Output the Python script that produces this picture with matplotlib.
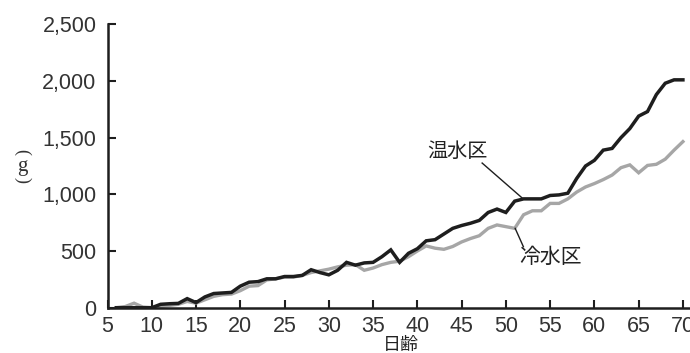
import matplotlib
matplotlib.use("Agg")
import matplotlib.pyplot as plt

days = list(range(6, 71))
warm = [0, 0, 0, 0, 0, 30, 35, 38, 80, 45,
        95, 125, 130, 135, 190, 225, 230, 255, 255, 275,
        275, 285, 335, 310, 290, 330, 400, 375, 395, 400,
        450, 510, 400, 480, 520, 590, 600, 650, 700, 725,
        745, 770, 840, 870, 840, 940, 960, 960, 960, 990,
        995, 1010, 1140, 1250, 1300, 1390, 1405, 1500, 1580, 1690,
        1730, 1880, 1980, 2010, 2010]
cold = [0, 10, 40, 5, 0, 10, 20, 30, 55, 40,
        70, 100, 115, 120, 150, 190, 195, 245, 255, 270,
        270, 285, 310, 325, 340, 360, 375, 380, 330, 350,
        380, 400, 410, 450, 500, 545, 525, 515, 540, 580,
        610, 635, 700, 730, 715, 700, 820, 855, 855, 920,
        920, 960, 1020, 1065, 1095, 1130, 1170, 1235, 1260, 1190,
        1255, 1265, 1310, 1390, 1465]
xticks = [5, 10, 15, 20, 25, 30, 35, 40, 45, 50, 55, 60, 65, 70]
yticks = [0, 500, 1000, 1500, 2000, 2500]
ytick_labels = ["0", "500", "1,000", "1,500", "2,000", "2,500"]
warm_label = "温水区"
cold_label = "冷水区"
xlabel = "日齢"

W, H = 690, 353
fig = plt.figure(figsize=(W / 100, H / 100), dpi=100)
ax = fig.add_axes([107.5 / W, (H - 307.7) / H, 1 - 107.5 / W, (307.7 - 24.3) / H])

ax.plot(days, cold, color="#a6a6a6", lw=2.4, solid_joinstyle="miter", zorder=2)
ax.plot(days, warm, color="#1e1e1e", lw=2.5, solid_joinstyle="miter", zorder=3)

ax.set_xlim(5, 70.8)
ax.set_ylim(0, 2500)
ax.set_xticks(xticks)
ax.set_xticklabels([str(t) for t in xticks])
ax.set_yticks(yticks)
ax.set_yticklabels(ytick_labels)

for s in ["top", "right"]:
    ax.spines[s].set_visible(False)
for s in ["left", "bottom"]:
    ax.spines[s].set_linewidth(1.8)
    ax.spines[s].set_color("#1e1e1e")

tick_font = "Liberation Sans"
ax.tick_params(axis="both", direction="in", length=6, width=1.5, color="#1e1e1e",
               labelsize=15.5, labelcolor="#333333")
ax.tick_params(axis="x", pad=6)
ax.tick_params(axis="y", pad=8)
for lab in ax.get_xticklabels() + ax.get_yticklabels():
    lab.set_fontfamily(tick_font)

cjk = ["Noto Sans CJK JP", "DejaVu Sans"]

# leader lines and labels
ax.plot([47.32, 51.84], [1276, 968], color="#1e1e1e", lw=1.0, zorder=4)
ax.plot([51.05, 51.98], [700, 538], color="#1e1e1e", lw=1.0, zorder=4)
ax.text(44.49, 1378, warm_label, fontsize=14.5, family=cjk, color="#222222",
        ha="center", va="center")
ax.text(55.0, 447, cold_label, fontsize=15, family=cjk, color="#222222",
        ha="center", va="center")

# axis labels
fig.text(401 / W, 1 - 345 / H, xlabel, fontsize=13, family=cjk, color="#222222",
         ha="center", va="center")
serif = "Liberation Serif"
fig.text(22 / W, 1 - 152 / H, "(", fontsize=13, family=serif, color="#333333",
         rotation=-90, ha="center", va="center")
fig.text(22 / W, 1 - 166 / H, "g", fontsize=15, family=serif, color="#333333",
         ha="center", va="center")
fig.text(22 / W, 1 - 180 / H, ")", fontsize=13, family=serif, color="#333333",
         rotation=-90, ha="center", va="center")

fig.savefig("out.png", dpi=100)
